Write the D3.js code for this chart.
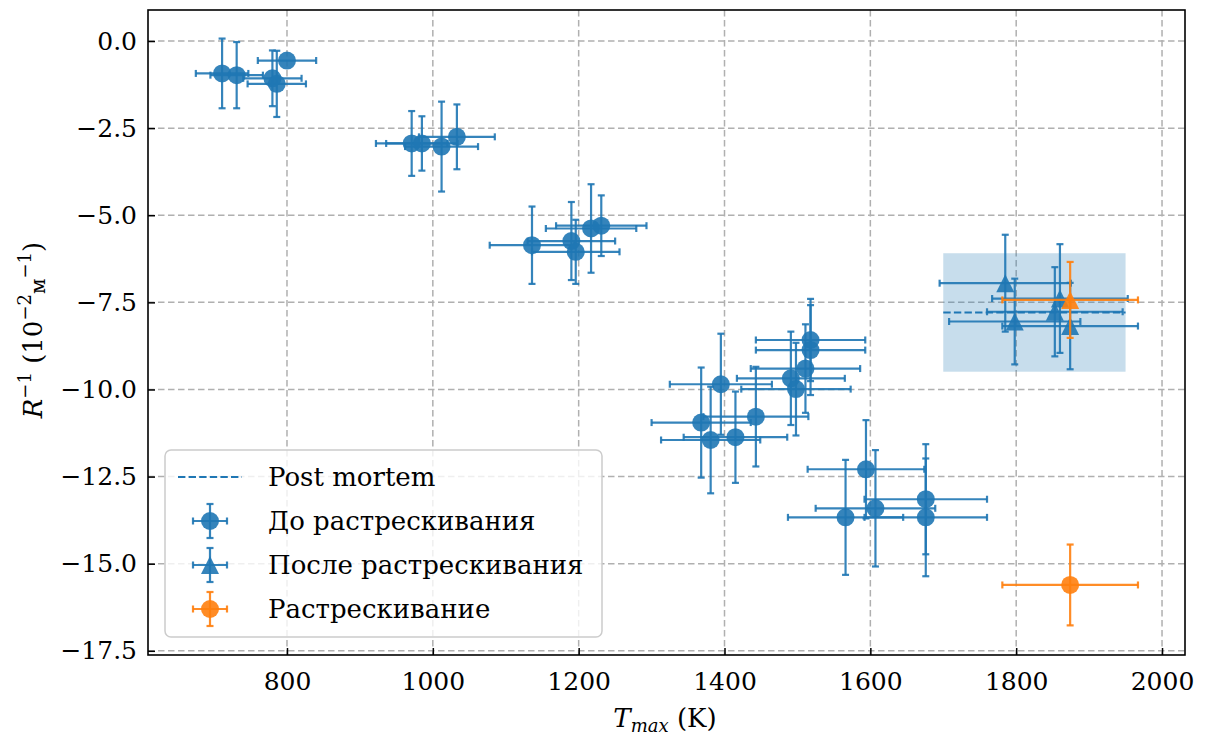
<!DOCTYPE html>
<html>
<head>
<meta charset="utf-8">
<script src="https://cdn.jsdelivr.net/npm/d3@7"></script>
<style>
  body { margin: 0; background: #fff; }
  svg text { font-family: "DejaVu Serif", "Liberation Serif", serif; fill: #000; }
</style>
</head>
<body>
<svg id="chart" width="1206" height="738"></svg>
<script>
// до растрескивания
var beforeT    = [711, 731, 780, 786, 800, 971, 985, 1012, 1033, 1136, 1190, 1196, 1217, 1231,
                  1395, 1368, 1381, 1415, 1443, 1491, 1498, 1511, 1518, 1518, 1594, 1566, 1607, 1676, 1676];
var beforeR    = [-0.93, -0.98, -1.07, -1.23, -0.56, -2.94, -2.94, -3.03, -2.75, -5.86, -5.74, -6.05, -5.38, -5.30,
                  -9.85, -10.95, -11.45, -11.37, -10.78, -9.68, -9.99, -9.40, -8.58, -8.87, -12.29, -13.67, -13.41, -13.15, -13.67];
var beforeTErr = [36, 36, 40, 40, 40, 49, 49, 50, 52, 58, 60, 60, 62, 62,
                  70, 68, 68, 71, 72, 74, 75, 75, 75, 75, 80, 79, 82, 84, 84];
var beforeRErr = [1.0, 0.95, 0.8, 0.95, 0, 0.93, 0.78, 1.29, 0.93, 1.11, 1.12, 0.92, 1.27, 0.87,
                  1.45, 1.58, 1.53, 1.31, 1.43, 1.34, 1.33, 1.27, 1.18, 1.29, 1.41, 1.65, 1.67, 1.58, 1.69];

// после растрескивания
var afterT    = [1785, 1798, 1860, 1853, 1874];
var afterR    = [-6.95, -8.05, -7.39, -7.77, -8.18];
var afterTErr = [90, 90, 93, 93, 93];
var afterRErr = [1.39, 1.23, 1.56, 1.28, 1.24];

// растрескивание
var crackT      = [1874, 1874];
var crackR      = [-15.61, -7.43];
var crackTErr   = [93, 93];
var crackRErr   = [1.16, 1.09];
var crackMarker = ["circle", "triangle"];

// post mortem
var pmT = [1700, 1950];
var pmR = -7.79;
var pmRErr = 1.70;

var xTicks = [800, 1000, 1200, 1400, 1600, 1800, 2000];
var yTicks = [0, -2.5, -5, -7.5, -10, -12.5, -15, -17.5];
var legendLabels = ["Post mortem", "До растрескивания", "После растрескивания", "Растрескивание"];

var blue = "#1f77b4", orange = "#ff7f0e";
var L = 148, R = 1185, T = 10, B = 655;

var svg = d3.select("#chart");
var x = d3.scaleLinear().domain([609.4, 2031.5]).range([L, R]);
var y = d3.scaleLinear().domain([0.89, -17.62]).range([T, B]);

// сетка
var grid = svg.append("g").attr("stroke", "#b0b0b0").attr("stroke-width", 1.5)
  .attr("stroke-dasharray", "6.5,3.5");
xTicks.forEach(function(t) {
  grid.append("line").attr("x1", x(t)).attr("x2", x(t)).attr("y1", T).attr("y2", B);
});
yTicks.forEach(function(t) {
  grid.append("line").attr("x1", L).attr("x2", R).attr("y1", y(t)).attr("y2", y(t));
});

var plot = svg.append("g");

// post mortem область
plot.append("rect")
  .attr("x", x(pmT[0])).attr("width", x(pmT[1]) - x(pmT[0]))
  .attr("y", y(pmR + pmRErr)).attr("height", y(pmR - pmRErr) - y(pmR + pmRErr))
  .attr("fill", blue).attr("fill-opacity", 0.25);
plot.append("line")
  .attr("x1", x(pmT[0])).attr("x2", x(pmT[1])).attr("y1", y(pmR)).attr("y2", y(pmR))
  .attr("stroke", blue).attr("stroke-width", 2).attr("stroke-dasharray", "7.4,3.2");

function triPath(cx, cy, h) {
  return "M" + cx + "," + (cy - h) + "L" + (cx - h) + "," + (cy + h) + "L" + (cx + h) + "," + (cy + h) + "Z";
}

function errorbar(g, cx, cy, x0, x1, y0, y1, color) {
  var e = g.append("g").attr("stroke", color).attr("stroke-width", 2.2).attr("stroke-opacity", 0.9);
  var cap = 3.5;
  e.append("line").attr("x1", x0).attr("x2", x1).attr("y1", cy).attr("y2", cy);
  e.append("line").attr("x1", x0).attr("x2", x0).attr("y1", cy - cap).attr("y2", cy + cap);
  e.append("line").attr("x1", x1).attr("x2", x1).attr("y1", cy - cap).attr("y2", cy + cap);
  if (y1 - y0 > 0.5) {
    e.append("line").attr("x1", cx).attr("x2", cx).attr("y1", y0).attr("y2", y1);
    e.append("line").attr("x1", cx - cap).attr("x2", cx + cap).attr("y1", y0).attr("y2", y0);
    e.append("line").attr("x1", cx - cap).attr("x2", cx + cap).attr("y1", y1).attr("y2", y1);
  }
  return e;
}

function drawMarker(g, cx, cy, color, marker) {
  if (marker === "triangle") {
    g.append("path").attr("d", triPath(cx, cy, 9)).attr("fill", color).attr("fill-opacity", 0.9);
  } else {
    g.append("circle").attr("cx", cx).attr("cy", cy).attr("r", 9).attr("fill", color).attr("fill-opacity", 0.9);
  }
}

function series(ts, rs, tErr, rErr, color, markers) {
  var g = plot.append("g");
  ts.forEach(function(t, i) {
    errorbar(g, x(t), y(rs[i]), x(t - tErr[i]), x(t + tErr[i]), y(rs[i] + rErr[i]), y(rs[i] - rErr[i]), color);
  });
  ts.forEach(function(t, i) {
    var m = typeof markers === "string" ? markers : markers[i];
    drawMarker(g, x(t), y(rs[i]), color, m);
  });
}

series(beforeT, beforeR, beforeTErr, beforeRErr, blue, "circle");
series(afterT, afterR, afterTErr, afterRErr, blue, "triangle");
series(crackT, crackR, crackTErr, crackRErr, orange, crackMarker);

// оси
var xAxis = svg.append("g").attr("transform", "translate(0," + B + ")")
  .call(d3.axisBottom(x).tickValues(xTicks).tickSize(-7).tickPadding(12).tickFormat(d3.format("d")));
var yAxis = svg.append("g").attr("transform", "translate(" + L + ",0)")
  .call(d3.axisLeft(y).tickValues(yTicks).tickSize(-7).tickPadding(11).tickFormat(d3.format(".1f")));
[xAxis, yAxis].forEach(function(a) {
  a.select(".domain").remove();
  a.selectAll(".tick line").attr("stroke", "#000").attr("stroke-width", 1.5);
  a.selectAll(".tick text").attr("font-size", 25).attr("font-family", "DejaVu Serif");
});
xAxis.selectAll(".tick text").attr("dy", "0.9em");

svg.append("rect").attr("x", L).attr("y", T).attr("width", R - L).attr("height", B - T)
  .attr("fill", "none").attr("stroke", "#000").attr("stroke-width", 1.6);

// подписи осей
var xl = svg.append("text").attr("x", 665).attr("y", 727).attr("text-anchor", "middle").attr("font-size", 26);
xl.append("tspan").attr("font-style", "italic").text("T");
xl.append("tspan").attr("font-style", "italic").attr("font-size", 18).attr("dy", 5).text("max");
xl.append("tspan").attr("dy", -5).text(" (K)");

var yl = svg.append("text").attr("transform", "translate(42,330) rotate(-90)")
  .attr("text-anchor", "middle").attr("font-size", 26);
yl.append("tspan").attr("font-style", "italic").text("R");
yl.append("tspan").attr("font-size", 18).attr("dy", -11).text("−1");
yl.append("tspan").attr("dy", 11).text(" (10");
yl.append("tspan").attr("font-size", 18).attr("dy", -11).text("−2");
yl.append("tspan").attr("font-size", 20).attr("dy", 14).text("м");
yl.append("tspan").attr("font-size", 18).attr("dy", -14).text("−1");
yl.append("tspan").attr("dy", 11).text(")");

// легенда
var lg = svg.append("g");
lg.append("rect").attr("x", 165).attr("y", 450).attr("width", 437).attr("height", 187).attr("rx", 6)
  .attr("fill", "#fff").attr("fill-opacity", 0.8).attr("stroke", "#cccccc").attr("stroke-width", 1.5);
var rowY = [477, 521, 565, 609];
lg.append("line").attr("x1", 178).attr("x2", 242).attr("y1", rowY[0]).attr("y2", rowY[0])
  .attr("stroke", blue).attr("stroke-width", 2).attr("stroke-dasharray", "7.4,3.2");
var handles = [null, [blue, "circle"], [blue, "triangle"], [orange, "circle"]];
handles.forEach(function(h, i) {
  if (!h) return;
  var cy = rowY[i];
  errorbar(lg, 210, cy, 193, 227, cy - 17, cy + 17, h[0]);
  drawMarker(lg, 210, cy, h[0], h[1]);
});
legendLabels.forEach(function(s, i) {
  lg.append("text").attr("x", 268).attr("y", rowY[i] + 9).attr("font-size", 26).text(s);
});
</script>
</body>
</html>
